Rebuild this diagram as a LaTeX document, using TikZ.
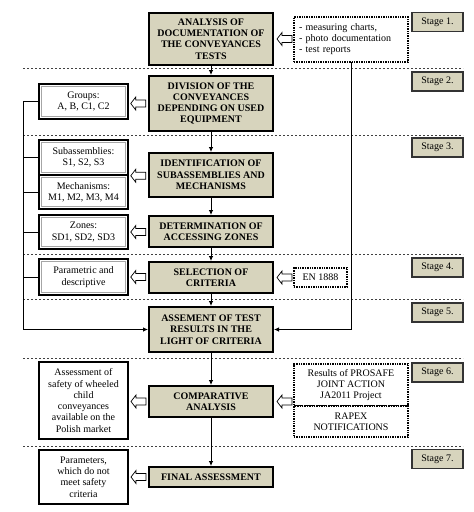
\documentclass[tikz,border=0pt]{standalone}
\usepackage{fontspec}
\setmainfont{Liberation Serif}
\usetikzlibrary{arrows.meta,calc}
\definecolor{khaki}{HTML}{D7D4BD}
\tikzset{
  mainbox/.style={draw=black, line width=2pt, fill=khaki, inner sep=0pt, minimum width=124pt, align=center, font=\fontsize{10}{11.3}\selectfont\bfseries},
  sidebox/.style={draw=black, line width=1.5pt, fill=white, inner sep=0pt, minimum width=89pt, align=center, font=\fontsize{10}{11.3}\selectfont,
    path picture={\draw[gray!70, line width=1pt] ([shift={(2.5,2.5)}]path picture bounding box.north west) rectangle ([shift={(-2.5,-2.5)}]path picture bounding box.south east);}},
  dotbox/.style={draw=black, densely dotted, line width=1.4pt, fill=white, inner sep=0pt, font=\fontsize{10}{11}\selectfont},
  stagebox/.style={draw=black!80, line width=1.2pt, fill=khaki, inner sep=0pt, minimum width=51pt, minimum height=19pt, font=\fontsize{10}{11}\selectfont},
  sep/.style={draw=black!75, line width=0.8pt, dash pattern=on 2pt off 2pt},
  arr/.style={draw=black, line width=0.8pt, -{Latex[length=5pt,width=4.5pt]}},
  bus/.style={draw=black, line width=0.8pt},
  hollowst/.style={draw=black, line width=0.7pt, fill=white, line join=miter}
}
\newcommand\hollowleft[1]{\draw[hollowst] (#1) -- ++(5,-6.5) -- ++(0,3) -- ++(10,0) -- ++(0,7) -- ++(-10,0) -- ++(0,3) -- cycle;}
\begin{document}
\begin{tikzpicture}[x=1pt,y=-1pt]
\useasboundingbox (0,0) rectangle (474,512);
% separators
\foreach \yy in {68,135,254,299,358,446} \draw[sep] (23,\yy) -- (463,\yy);
% main boxes
\node[mainbox, minimum height=52pt] (B1) at (211,39) {ANALYSIS OF\\DOCUMENTATION OF\\THE CONVEYANCES\\TESTS};
\node[mainbox, minimum height=55pt] (B2) at (211,103.5) {DIVISION OF THE\\CONVEYANCES\\DEPENDING ON USED\\EQUIPMENT};
\node[mainbox, minimum height=44pt] (B3) at (211,175) {IDENTIFICATION OF\\SUBASSEMBLIES AND\\MECHANISMS};
\node[mainbox, minimum height=31pt] (B4) at (211,231.5) {DETERMINATION OF\\ACCESSING ZONES};
\node[mainbox, minimum height=31pt] (B5) at (211,277.5) {SELECTION OF\\CRITERIA};
\node[mainbox, minimum height=45pt] (B6) at (211,329.5) {ASSEMENT OF TEST\\RESULTS IN THE\\LIGHT OF CRITERIA};
\node[mainbox, minimum height=31pt] (B7) at (211,401.5) {COMPARATIVE\\ANALYSIS};
\node[mainbox, minimum height=20pt] (B8) at (211,477) {FINAL ASSESSMENT};
% side boxes
\node[sidebox, minimum height=35pt] (groups) at (83.5,101.5) {Groups:\\A, B, C1, C2};
\node[sidebox, minimum height=35pt] (sub) at (83.5,157.5) {Subassemblies:\\S1, S2, S3};
\node[sidebox, minimum height=34pt] (mech) at (83.5,192) {Mechanisms:\\M1, M2, M3, M4};
\node[sidebox, minimum height=34pt] (zones) at (83.5,232) {Zones:\\SD1, SD2, SD3};
\node[sidebox, minimum height=36pt] (param) at (83.5,277) {Parametric and\\descriptive};
\node[sidebox, minimum height=77pt, line width=2pt, path picture={}] (safety) at (83.5,400.5) {Assessment of\\safety of wheeled\\child\\conveyances\\available on the\\Polish market};
\node[sidebox, minimum height=54pt, line width=2pt, path picture={}] (params) at (83.5,477) {Parameters,\\which do not\\meet safety\\criteria};
% dotted boxes
\node[dotbox, minimum width=114pt, minimum height=45pt, align=left, text width=104pt] (doc) at (351,39.5) {- measuring charts,\\- photo documentation\\- test reports};
\node[dotbox, minimum width=53pt, minimum height=19pt] (en) at (320.5,277.5) {EN 1888};
\node[dotbox, minimum width=114pt, minimum height=42pt, align=center] (prosafe) at (351,385) {Results of PROSAFE\\JOINT ACTION\\JA2011 Project};
\node[dotbox, minimum width=114pt, minimum height=31pt, align=center] (rapex) at (351,421.5) {RAPEX\\NOTIFICATIONS};
% stage boxes
\node[stagebox] (S1) at (437.5,22) {Stage 1.};
\node[stagebox] (S2) at (437.5,81.5) {Stage 2.};
\node[stagebox] (S3) at (437.5,147.5) {Stage 3.};
\node[stagebox] (S4) at (437.5,267.5) {Stage 4.};
\node[stagebox] (S5) at (437.5,312.5) {Stage 5.};
\node[stagebox] (S6) at (437.5,372.5) {Stage 6.};
\node[stagebox] (S7) at (437.5,459) {Stage 7.};
% vertical flow
\draw[arr] (B1) -- (B2);
\draw[arr] (B2) -- (B3);
\draw[arr] (B3) -- (B4);
\draw[arr] (B4) -- (B5);
\draw[arr] (B5) -- (B6);
\draw[arr] (B6) -- (B7);
\draw[arr] (B7) -- (B8);
% left bus
\coordinate (busend) at (23,329.5);
\draw[bus] (groups.west) -| (busend);
\draw[bus] (sub.west) -- (sub.west -| busend);
\draw[bus] (mech.west) -- (mech.west -| busend);
\draw[bus] (zones.west) -- (zones.west -| busend);
\draw[bus] (param.west) -- (param.west -| busend);
\draw[arr] (busend) -- (B6.west);
% right line
\coordinate (rtop) at (351,62);
\draw[arr] (rtop) |- (B6.east);
% hollow arrows
\hollowleft{$(B1.east)+(3,0)$}
\hollowleft{$(groups.east |- B2.west)+(2,0)$}
\hollowleft{$(sub.south east)+(2,0)$}
\hollowleft{$(zones.east)+(2,0)$}
\hollowleft{$(param.east)+(2,0)$}
\hollowleft{$(B5.east)+(3,0)$}
\hollowleft{$(safety.east |- B7.west)+(2,0)$}
\hollowleft{$(B7.east)+(3,0)$}
\hollowleft{$(params.east)+(2,0)$}
\end{tikzpicture}
\end{document}
